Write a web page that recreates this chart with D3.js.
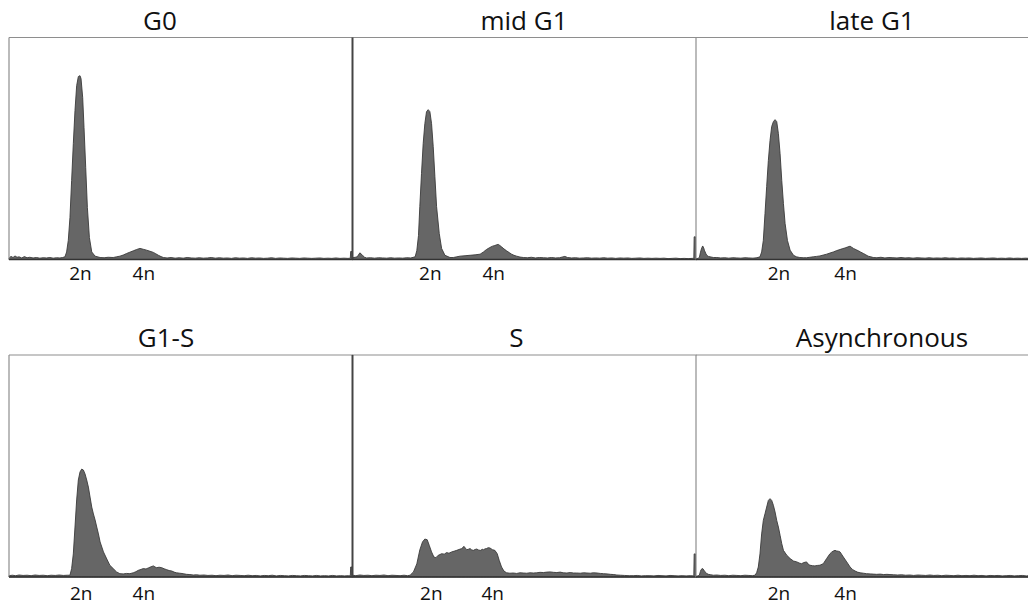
<!DOCTYPE html>
<html>
<head>
<meta charset="utf-8">
<script src="https://cdn.jsdelivr.net/npm/d3@7"></script>
<style>
  html, body { margin: 0; padding: 0; background: #fff; }
  svg { display: block; }
  .title { font-family: "Open Sans", sans-serif; font-size: 26px; fill: #111; }
  .ploidy text { font-family: "Open Sans", sans-serif; font-size: 19px; fill: #111; }
</style>
</head>
<body>
<svg id="chart" width="1028" height="605"></svg>
<script>
// DNA-content histograms (events per channel) for six cell-cycle stages.
const titles = ["G0", "mid G1", "late G1", "G1-S", "S", "Asynchronous"];
const ploidyLabels = ["2n", "4n"];
// channel positions of the 2n / 4n labels in each panel
const ploidyChannels = [[212, 401], [231, 420], [246, 445], [214, 401], [234, 417], [246, 445]];

// [channel, count] pairs
const g0 = [[0,6],[6,14],[12,9],[18,16],[24,10],[30,12],[38,7],[46,13],[54,8],[62,10],[72,7],[82,9],[92,6],[102,8],[112,7],[122,9],[132,6],[142,8],[152,7],[160,9],[167,12],
  [172,34],[177,86],[182,189],[187,356],[192,522],[197,671],[202,783],[207,824],[212,828],[215,815],[220,729],[224,594],[229,414],[234,234],[240,99],[247,34],[257,15],[272,9],[284,8],[296,10],
  [311,9],[321,12],[331,15],[341,20],[351,27],[361,33],[371,39],[381,45],[391,50],[401,46],[411,42],[421,37],[431,32],[438,26],[446,19],[454,13],[461,9],[472,7],[484,9],[496,6],
  [508,8],[520,6],[532,9],[544,7],[556,6],[568,8],[580,6],[592,7],[604,9],[616,6],[628,8],[640,6],[652,7],[664,5],[676,8],[688,6],[700,7],[712,5],[724,8],[736,6],[748,7],[760,5],
  [772,6],[784,8],[796,5],[808,7],[820,6],[832,5],[844,7],[856,6],[868,5],[880,7],[892,6],[904,5],[916,6],[928,7],[940,5],[952,6],[964,5],[976,7],[988,5],[1000,6],[1012,5],[1019,6],[1020,36],[1024,36]];

const midG1 = [[0,8],[8,10],[14,12],[22,30],[30,19],[36,10],[42,7],[54,8],[66,6],[78,8],[90,7],[102,6],[114,8],[126,6],[138,7],[150,6],[162,8],[174,7],[187,12],
  [192,40],[197,108],[201,239],[206,387],[211,522],[216,612],[221,666],[226,675],[231,666],[236,612],[241,508],[246,373],[251,239],[259,117],[266,50],[276,19],[291,9],
  [301,9],[311,12],[321,15],[336,17],[351,19],[366,21],[381,24],[391,34],[400,45],[410,54],[418,60],[425,63],[430,66],[435,68],[440,63],[445,57],[452,48],[460,39],[468,31],[475,24],[482,19],[490,15],[500,11],[510,9],
  [522,8],[534,10],[546,7],[558,9],[570,8],[582,7],[594,9],[606,7],[618,8],[626,11],[634,14],[642,9],[654,7],[666,8],[678,6],[690,7],[702,8],[714,6],[726,7],[738,6],[750,8],[762,6],[774,7],[786,5],
  [798,7],[810,6],[822,7],[834,5],[846,6],[858,7],[870,5],[882,6],[894,5],[906,6],[918,5],[930,6],[942,4],[954,5],[966,6],[978,4],[990,5],[1002,4],[1014,5],[1019,5],[1020,102],[1024,102]];

const lateG1 = [[0,4],[6,5],[10,9],[13,30],[15,42],[18,55],[20,61],[23,52],[25,42],[29,28],[32,19],[37,14],[42,12],[52,9],[62,9],[74,7],[86,8],[98,6],[110,8],[122,7],[134,6],[146,8],[158,7],[170,6],[182,8],[191,12],
  [196,34],[201,86],[206,207],[211,329],[216,446],[221,536],[226,599],[231,621],[236,630],[241,621],[246,567],[251,477],[256,356],[261,252],[266,162],[273,86],[281,42],[291,19],[300,12],[310,9],
  [320,8],[330,8],[340,10],[350,12],[360,14],[370,16],[380,20],[390,24],[400,29],[410,34],[420,40],[430,45],[438,49],[445,52],[452,56],[460,60],[465,55],[470,50],[478,44],[485,39],[492,33],[500,27],[507,21],[514,15],[522,12],[529,9],
  [540,8],[552,10],[564,7],[576,9],[588,8],[600,7],[612,9],[624,7],[636,8],[648,6],[660,8],[672,7],[684,6],[696,8],[708,6],[720,7],[732,6],[744,8],[756,6],[768,7],[780,5],[792,7],[804,6],[816,7],[828,5],
  [840,6],[852,7],[864,5],[876,6],[888,7],[900,5],[912,6],[924,5],[936,7],[948,5],[960,6],[972,5],[984,6],[996,5],[1008,6],[1024,5]];

const g1S = [[0,6],[10,8],[20,6],[30,9],[42,7],[54,8],[66,6],[78,9],[90,7],[102,8],[114,6],[126,8],[138,7],[150,9],[162,7],[174,8],[182,8],
  [187,38],[192,104],[197,225],[202,347],[207,437],[212,473],[217,486],[222,482],[227,464],[232,437],[237,405],[242,360],[247,315],[252,284],[257,257],[262,225],[267,194],[272,158],[282,113],[292,81],[301,53],[311,38],[321,23],[331,15],
  [341,14],[351,16],[361,15],[371,19],[379,24],[386,30],[394,34],[401,38],[409,36],[416,41],[424,46],[431,50],[436,45],[441,42],[448,44],[456,42],[463,37],[471,33],[478,29],[486,27],[493,22],[500,19],[510,17],[520,15],[530,12],[540,11],[550,9],
  [560,10],[570,8],[582,9],[594,7],[606,8],[618,6],[630,8],[642,7],[654,9],[666,6],[678,8],[690,7],[702,6],[714,8],[726,6],[738,7],[750,5],[762,7],[774,6],[786,8],[798,5],[810,7],[822,6],[834,5],
  [846,7],[858,6],[870,5],[882,7],[894,6],[906,5],[918,7],[930,5],[942,6],[954,5],[966,7],[978,5],[990,6],[1002,5],[1014,6],[1019,5],[1020,45],[1024,45]];

const sPhase = [[0,8],[10,6],[22,9],[34,7],[46,8],[58,6],[70,8],[82,7],[94,9],[106,6],[118,8],[130,7],[142,6],[154,8],[164,6],[172,8],
  [182,23],[192,59],[201,122],[209,158],[216,171],[223,168],[229,143],[236,113],[243,90],[249,87],[256,98],[261,101],[266,105],[274,103],[281,110],[288,107],[296,113],[303,116],[311,120],[318,124],[326,128],[333,138],[337,130],
  [341,123],[346,125],[351,128],[356,122],[361,120],[366,124],[371,126],[377,121],[383,120],[387,125],[391,123],[396,127],[400,128],[405,132],[410,131],[414,127],[418,123],[425,120],[432,105],[438,75],[445,45],[452,27],[460,19],
  [470,17],[480,18],[490,16],[500,19],[510,18],[520,17],[530,19],[540,18],[550,19],[560,21],[570,20],[580,22],[590,23],[600,21],[610,20],[620,22],[629,19],[640,18],[650,20],[660,18],[669,18],[680,17],[690,19],[700,18],[710,17],[719,19],
  [730,18],[740,16],[749,15],[760,14],[770,12],[780,11],[789,9],[800,8],[812,7],[826,6],[838,6],[850,7],[862,5],[874,6],[888,6],[900,5],[912,7],[924,6],[936,5],[948,7],[960,6],[972,5],[984,6],[996,5],[1008,6],[1019,5],[1020,104],[1024,104]];

const asynchronous = [[0,4],[6,5],[10,8],[13,24],[15,33],[18,37],[20,38],[24,30],[27,23],[32,16],[37,12],[44,10],[52,8],[62,9],[74,7],[86,8],[98,6],[110,8],[122,7],[134,6],[146,8],[158,7],[168,6],[176,8],
  [181,19],[186,45],[191,104],[196,194],[201,255],[206,285],[211,315],[216,345],[221,353],[226,345],[231,323],[236,293],[241,255],[246,225],[251,188],[256,150],[261,120],[271,98],[281,83],[291,72],[301,68],[308,63],[315,60],[322,65],[330,68],
  [335,58],[340,53],[348,51],[355,50],[362,52],[370,53],[380,60],[390,83],[400,105],[405,112],[410,117],[415,120],[420,117],[425,116],[430,113],[440,90],[450,68],[460,45],[468,33],[475,27],[482,22],[490,19],[500,17],[509,15],
  [520,14],[530,13],[539,12],[550,13],[560,11],[570,12],[579,11],[590,10],[602,9],[614,10],[626,8],[638,9],[650,7],[662,9],[674,8],[686,7],[698,9],[710,7],[722,8],[734,6],[746,8],[758,7],[770,6],[782,8],[794,6],
  [806,7],[818,6],[830,8],[842,6],[854,7],[866,5],[878,7],[890,6],[902,7],[914,5],[926,6],[938,7],[950,5],[962,6],[974,7],[986,5],[998,6],[1010,5],[1024,6]];

const series = [g0, midG1, lateG1, g1S, sPhase, asynchronous];

// ---- layout ----
const colLeft = [9, 352.5, 696];
const rowTop = [37.5, 355];
const plotW = 343, plotH = 222;
const titleOffset = [151, 171.5, 176, 157, 164, 186];  // title centre from panel left
const titleBaseline = [30, 347];
const labelPad = [7, 9.5];
const leftEdgeDark = [false, true, false, false, true, false];

const svg = d3.select("#chart");

const x = d3.scaleLinear().domain([0, 1024]).range([0, plotW]);
const y = d3.scaleLinear().domain([0, 1000]).range([plotH, 0]);

const area = d3.area()
  .x(d => x(d[0]))
  .y0(plotH)
  .y1(d => y(d[1]))
  .curve(d3.curveLinear);

series.forEach((data, i) => {
  const row = Math.floor(i / 3), col = i % 3;
  const g = svg.append("g")
    .attr("transform", `translate(${colLeft[col]},${rowTop[row]})`);

  // frame: top and left edges
  g.append("line")
    .attr("x1", 0).attr("x2", plotW + 1).attr("y1", 0).attr("y2", 0)
    .attr("stroke", "#8e8e8e").attr("stroke-width", 1.2);

  g.append("path")
    .datum(data)
    .attr("d", area)
    .attr("fill", "#666")
    .attr("stroke", "#3a3a3a")
    .attr("stroke-width", 0.9)
    .attr("stroke-linejoin", "round");

  g.append("line")
    .attr("x1", 0).attr("x2", 0).attr("y1", 0).attr("y2", plotH)
    .attr("stroke", leftEdgeDark[i] ? "#444" : "#8e8e8e")
    .attr("stroke-width", leftEdgeDark[i] ? 2 : 1.2);

  // baseline
  g.append("line")
    .attr("x1", 0).attr("x2", plotW + 1).attr("y1", plotH).attr("y2", plotH)
    .attr("stroke", "#333").attr("stroke-width", 1.6);

  // ploidy labels on the channel axis
  const axis = d3.axisBottom(x)
    .tickValues(ploidyChannels[i])
    .tickFormat((d, k) => ploidyLabels[k])
    .tickSize(0)
    .tickPadding(labelPad[row]);
  const ax = g.append("g")
    .attr("class", "ploidy")
    .attr("transform", `translate(0,${plotH})`)
    .call(axis);
  ax.select(".domain").remove();
  ax.selectAll("text").attr("font-family", null).attr("font-size", null);

  svg.append("text")
    .attr("class", "title")
    .attr("x", colLeft[col] + titleOffset[i])
    .attr("y", titleBaseline[row])
    .attr("text-anchor", "middle")
    .text(titles[i]);
});
</script>
</body>
</html>
